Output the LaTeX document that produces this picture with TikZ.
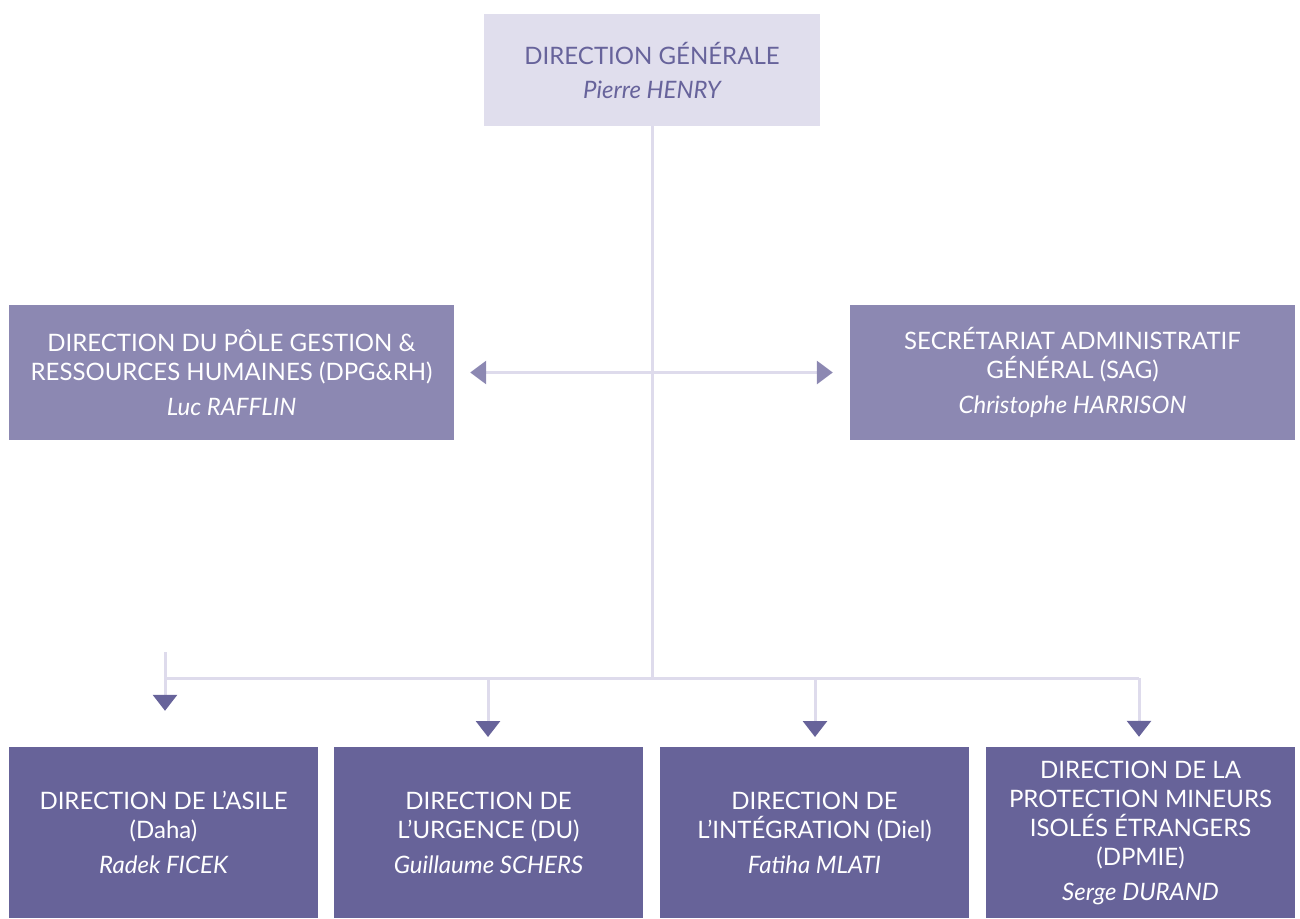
\documentclass[tikz,border=0pt]{standalone}
\usepackage{fontspec}
\setmainfont{Lato}
\usetikzlibrary{arrows.meta}
\definecolor{topfill}{HTML}{E0DEED}
\definecolor{toptext}{HTML}{67639B}
\definecolor{midfill}{HTML}{8C88B2}
\definecolor{botfill}{HTML}{676399}
\definecolor{linkc}{HTML}{DEDBEC}
\definecolor{tipdark}{HTML}{67639A}
\definecolor{tipmid}{HTML}{8C88B2}
\tikzset{
  orgbox/.style={rectangle, inner sep=0pt, align=center, font=\fontsize{24}{29}\selectfont},
  topbox/.style={orgbox, fill=topfill, text=toptext, minimum width=336pt, minimum height=112pt},
  midbox/.style={orgbox, fill=midfill, text=white, minimum width=445pt, minimum height=135pt},
  botbox/.style={orgbox, fill=botfill, text=white, minimum width=309pt, minimum height=171pt},
  link/.style={draw=linkc, line width=3pt},
  downtip/.style={link, -{Triangle[width=24pt,length=16pt,color=tipdark]}},
  sidetips/.style={link, {Triangle[width=23pt,length=16pt,color=tipmid]}-{Triangle[width=23pt,length=16pt,color=tipmid]}}
}
\begin{document}
\begin{tikzpicture}[x=1pt,y=-1pt]
\useasboundingbox (0,0) rectangle (1300,918);
\node[topbox] (dg) at (652,70) {DIRECTION GÉNÉRALE\\[5pt]\itshape Pierre HENRY};
\node[midbox] (dpg) at (231.5,372.5) {DIRECTION DU PÔLE GESTION \&\\RESSOURCES HUMAINES (DPG\&RH)\\[6pt]\itshape Luc RAFFLIN};
\node[midbox] (sag) at (1072.5,372.5) {SECRÉTARIAT ADMINISTRATIF\\GÉNÉRAL (SAG)\\[6pt]\itshape Christophe HARRISON};
\node[botbox] (asile) at (163.5,832.5) {DIRECTION DE L’ASILE\\(Daha)\\[6pt]\itshape Radek FICEK};
\node[botbox] (du) at (488.5,832.5) {DIRECTION DE\\L’URGENCE (DU)\\[6pt]\itshape Guillaume SCHERS};
\node[botbox] (diel) at (814.5,832.5) {DIRECTION DE\\L’INTÉGRATION (Diel)\\[6pt]\itshape Fatiha MLATI};
\node[botbox] (dpmie) at (1140.5,832.5) {DIRECTION DE LA\\PROTECTION MINEURS\\ISOLÉS ÉTRANGERS\\(DPMIE)\\[6pt]\itshape Serge DURAND};
\coordinate (hub) at (652,678);
\coordinate (hl) at (165,678);
\coordinate (hr) at (1139,678);
\coordinate (stub) at (165,652);
\draw[link] (dg.south) -- (hub);
\draw[sidetips, shorten <=16pt, shorten >=17pt] (dpg.east) -- (sag.west);
\draw[link] (hl) -- (hr);
\draw[downtip, shorten >=36pt] (stub) -- (stub |- asile.north);
\draw[downtip, shorten >=10pt] (hub -| 488,0) -- (488,747);
\draw[downtip, shorten >=10pt] (hub -| 815,0) -- (815,747);
\draw[downtip, shorten >=10pt] (hr) -- (hr |- dpmie.north);
\end{tikzpicture}
\end{document}
